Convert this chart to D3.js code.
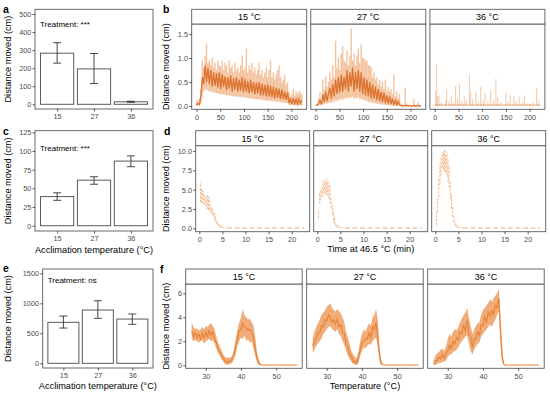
<!DOCTYPE html>
<html><head><meta charset="utf-8">
<script src="https://cdn.jsdelivr.net/npm/d3@7"></script>
<style>body{margin:0;background:#fff}svg{display:block}</style>
</head><body><svg id="c" width="550" height="394"></svg>
<script>
// ---------------- DATA ----------------
const accCats = ["15", "27", "36"];
// panel a
const aMean = [283, 196, 14];
const aLo = [228, 115, 11];
const aHi = [341, 281, 17];
const aTicks = [0, 100, 200, 300, 400, 500];
// panel c
const cMean = [39, 61, 86.5];
const cLo = [34, 55.5, 79];
const cHi = [44, 65.5, 93.5];
const cTicks = [0, 25, 50, 75, 100, 125];
// panel e
const eMean = [683, 888, 738];
const eLo = [588, 750, 650];
const eHi = [788, 1043, 822];
const eTicks = [0, 500, 1000, 1500];

const facetLabels = ["15 °C", "27 °C", "36 °C"];

// panel b (time, min)
const bTime = [0,3,6,9,12,15,18,21,24,27,30,33,36,39,42,45,48,51,54,57,60,63,66,69,72,75,78,81,84,87,90,93,96,99,102,105,108,111,114,117,120,123,126,129,132,135,138,141,144,147,150,153,156,159,162,165,168,171,174,177,180,183,186,189,192,195,198,201,204,207,210,213,216,219,222];
const b15Hi = [0.12,0.1,0.15,0.35,0.95,0.8,1.05,1.3,0.9,0.95, 0.85,1.0,0.8,0.9,0.75,0.95,0.85,0.8,0.95,0.75, 0.9,0.85,0.7,0.95,0.8,0.85,0.7,0.9,0.75,0.8, 0.7,0.85,1.05,0.75,0.8,1.2,0.7,0.85,0.75,0.9, 0.7,0.8,0.65,0.75,0.9,0.65,0.75,0.6,0.7,0.8, 0.6,0.75,0.95,0.6,0.7,0.55,0.65,0.75,0.85,0.6, 0.5,0.55,0.65,0.45,0.5,0.3,0.2,0.25,0.35,0.22, 0.3,0.25,0.32,0.28,0.25];
const b15Lo = [0,0.01,0.02,0.05,0.2,0.3,0.35,0.35,0.32,0.3, 0.3,0.3,0.28,0.28,0.26,0.27,0.25,0.25,0.24,0.24, 0.24,0.22,0.23,0.22,0.22,0.2,0.21,0.2,0.2,0.19, 0.2,0.18,0.19,0.18,0.18,0.17,0.17,0.16,0.16,0.15, 0.15,0.15,0.14,0.14,0.14,0.13,0.13,0.12,0.12,0.12, 0.11,0.11,0.11,0.1,0.1,0.1,0.09,0.09,0.09,0.08, 0.08,0.08,0.07,0.07,0.06,0.02,0.01,0.02,0.01,0.02, 0.01,0.02,0.01,0.02,0.01];
const b15Core = [0.02,0.05,0.03,0.2,0.6,0.45,0.85,0.5,0.8,0.45, 0.75,0.4,0.7,0.42,0.68,0.38,0.7,0.35,0.66,0.4, 0.62,0.33,0.6,0.36,0.64,0.3,0.58,0.34,0.6,0.3, 0.55,0.32,0.6,0.28,0.56,0.3,0.52,0.26,0.55,0.28, 0.5,0.24,0.48,0.26,0.5,0.22,0.46,0.22,0.44,0.2, 0.45,0.2,0.42,0.18,0.4,0.16,0.38,0.17,0.36,0.14, 0.34,0.14,0.3,0.12,0.28,0.06,0.15,0.04,0.16,0.05, 0.14,0.04,0.15,0.05,0.12];
const b27Hi = [0.02,0.05,0.15,0.3,0.1,0.55,0.35,0.62,0.4,0.5, 0.72,0.55,0.85,0.6,1.36,0.8,1.0,0.75,1.1,1.25, 0.95,0.9,1.15,0.85,1.05,1.62,0.95,1.1,0.85,1.05, 1.2,0.9,1.28,1.0,1.0,0.95,0.95,0.85,0.85,0.8, 0.6,0.7,0.55,0.6,0.45,0.55,0.4,0.5,0.35,0.55, 0.3,0.4,0.3,0.35,0.25,0.65,0.2,0.3,0.15,0.25, 0.05,0.03,0.02,0.38,0.05,0.02,0.01,0.02,0.01,0.14, 0.02,0.01,0.08,0.02,0.01];
const b27Lo = [0,0,0.01,0.02,0.01,0.04,0.03,0.06,0.04,0.06, 0.08,0.06,0.1,0.08,0.12,0.1,0.14,0.12,0.15,0.13, 0.16,0.15,0.18,0.15,0.18,0.17,0.2,0.15,0.18,0.15, 0.18,0.14,0.16,0.12,0.14,0.1,0.12,0.08,0.1,0.06, 0.08,0.05,0.06,0.04,0.05,0.03,0.04,0.02,0.03,0.02, 0.02,0.01,0.02,0.01,0.01,0.01,0.01,0,0.01,0, 0,0,0,0,0,0,0,0,0,0, 0,0,0,0,0];
const b27Core = [0.01,0.02,0.05,0.12,0.03,0.25,0.08,0.3,0.1,0.25, 0.38,0.15,0.45,0.2,0.55,0.25,0.6,0.28,0.65,0.3, 0.6,0.35,0.75,0.3,0.7,0.4,0.8,0.3,0.7,0.35, 0.75,0.3,0.7,0.25,0.6,0.22,0.55,0.2,0.5,0.15, 0.45,0.15,0.4,0.12,0.35,0.1,0.3,0.08,0.28,0.06, 0.22,0.05,0.2,0.04,0.15,0.03,0.12,0.02,0.1,0.02, 0.01,0,0.01,0,0.01,0,0.01,0,0,0.01, 0,0,0.01,0,0];
const b36SpikeT = [2,4,6,9,14,22,25,30,35,40, 44,48,52,57,62,66,73,76,80,87, 92,97,102,106,112,118,124,129,133,140, 150,155,159,167,172,178,184,189,195,200, 207,215,219];
const b36SpikeV = [0.32,0.87,0.2,0.22,0.08,0.12,0.33,0.1,0.22,0.08, 0.42,0.15,0.47,0.1,0.2,0.12,0.67,0.3,0.15,0.3, 0.1,0.4,0.12,0.26,0.1,0.33,0.12,0.57,0.18,0.08, 0.28,0.1,0.22,0.2,0.1,0.2,0.08,0.22,0.06,0.05, 0.08,0.38,0.1];
const b36BaseT = [0, 60, 120, 180, 222];
const b36BaseV = [0.02, 0.02, 0.02, 0.02, 0.02];

// panel d (time at 46.5 °C, min)
const dTime = [0.25,0.5,0.75,1,1.25,1.5,1.75,2,2.25,2.5,2.75,3,3.25,3.5,3.75,4,4.25,4.5,4.75,5,5.25,5.5,5.75,6];
const d15Hi = [6.0,5.2,4.9,4.6,4.2,4.0,4.3,4.1,3.9,3.0,2.7,2.5,2.0,1.6,1.2,0.9,0.6,0.4,0.3,0.2,0.12,0.1,0.08,0.06];
const d15Lo = [3.4,3.3,3.2,3.1,3.0,2.8,2.5,2.4,2.3,2.0,1.8,1.6,1.2,0.9,0.6,0.4,0.25,0.15,0.1,0.05,0.03,0.02,0.02,0.02];
const d27Hi = [2.4,4.7,5.0,5.5,6.2,6.0,6.4,6.1,6.3,5.9,5.6,4.0,3.0,2.2,1.5,0.9,0.5,0.3,0.2,0.12,0.1,0.08,0.06,0.05];
const d27Lo = [1.3,3.2,3.6,4.0,4.4,4.6,4.3,4.5,4.2,3.8,3.2,2.6,1.8,1.0,0.6,0.3,0.15,0.1,0.05,0.03,0.02,0.02,0.02,0.02];
const d36Hi = [2.1,4.1,6.5,8.5,9.1,9.9,10.0,10.2,9.6,10.0,9.1,8.0,6.0,4.5,2.8,1.6,1.0,0.5,0.3,0.2,0.15,0.1,0.08,0.06];
const d36Lo = [0.4,2.1,4.0,5.6,6.8,7.8,7.6,7.4,7.2,6.8,6.0,5.2,3.8,2.5,1.5,0.8,0.4,0.2,0.1,0.05,0.03,0.02,0.02,0.02];
const dTailT = [6, 10, 14, 18, 22.7];
const dTailV = [0.03, 0.03, 0.03, 0.03, 0.03];

// panel f (temperature, °C)
const fTemp = [26,26.5,27,27.5,28,28.5,29,29.5,30,30.5,31,31.5,32,32.5,33,33.5,34,34.5,35,35.5,36,36.5,37,37.5,38,38.5,39,39.5,40,40.5,41,41.5,42,42.5,43,43.5,44,44.5,45,45.5,46];
const f15Hi = [3.6,3.2,3.0,3.1,2.9,3.0,3.2,3.0,3.3,3.2, 3.4,3.5,3.3,3.0,2.4,1.9,1.6,1.2,0.9,0.7, 0.6,0.7,0.6,0.8,1.3,2.2,3.0,3.6,4.0,4.7, 4.2,4.0,3.8,3.9,3.6,3.4,2.5,1.2,0.5,0.15, 0.05];
const f15Lo = [2.2,2.0,2.1,2.0,1.9,2.0,2.1,1.8,2.0,2.1, 2.2,2.0,2.1,1.8,1.4,1.0,0.8,0.5,0.3,0.1, 0.05,0.05,0.1,0.2,0.5,0.9,1.6,2.0,2.3,2.2, 2.5,2.0,2.2,1.9,2.0,1.5,0.8,0.3,0.05,0.02, 0.0];
const f15Core = [2.9,2.4,2.7,2.3,2.6,2.2,2.7,2.3,2.8,2.4, 2.9,2.5,2.8,2.2,1.9,1.3,1.2,0.7,0.6,0.3, 0.25,0.35,0.3,0.55,0.85,1.6,2.2,2.9,3.0,3.5, 3.2,3.1,2.9,3.0,2.8,2.5,1.5,0.7,0.2,0.05, 0.02];
const f27Hi = [2.3,2.8,3.2,3.5,3.8,4.2,4.4,4.6,4.9,5.0, 5.2,4.8,4.6,4.5,4.7,4.5,4.3,4.0,3.6,2.8, 2.3,1.8,1.2,0.9,0.7,0.6,1.2,2.0,2.6,3.0, 2.8,3.2,3.5,3.3,4.0,4.2,4.7,3.8,1.5,0.4, 0.08];
const f27Lo = [1.0,1.3,1.6,1.8,2.0,2.2,2.6,2.8,3.0,3.2, 3.3,3.0,2.9,2.8,3.0,2.6,2.4,2.0,1.7,1.2, 0.8,0.5,0.3,0.15,0.05,0.02,0.2,0.8,1.2,1.5, 1.4,1.6,1.8,1.7,2.0,2.2,2.3,1.5,0.3,0.05, 0.0];
const f27Core = [1.6,2.0,2.2,2.7,2.7,3.3,3.2,3.8,3.7,4.2, 4.0,3.6,3.8,3.4,3.9,3.2,3.4,2.7,2.7,1.7, 1.6,0.9,0.8,0.3,0.35,0.15,0.7,1.2,1.9,2.0, 2.2,2.2,2.7,2.3,3.2,3.0,3.6,2.3,0.8,0.15, 0.03];
const f36Hi = [0.4,0.8,1.0,1.1,1.3,1.4,1.2,1.6,2.2,2.6, 2.4,2.8,3.0,2.9,3.2,3.6,3.9,4.2,4.4,4.8, 4.0,3.3,2.6,3.0,3.3,3.5,3.6,4.2,4.6,4.8, 5.0,5.2,5.5,5.3,5.6,5.8,6.0,6.4,4.0,1.2, 0.1];
const f36Lo = [0.0,0.0,0.1,0.2,0.2,0.3,0.3,0.4,0.7,0.9, 0.9,1.1,1.2,1.3,1.5,1.8,2.0,2.2,2.4,2.5, 1.8,1.2,0.9,1.3,1.6,1.8,1.9,2.4,2.6,2.8, 3.0,3.2,3.4,3.2,3.5,3.8,4.2,4.5,1.5,0.2, 0.0];
const f36Core = [0.15,0.4,0.4,0.7,0.55,0.9,0.6,1.0,1.2,1.7, 1.4,2.0,1.8,2.3,2.1,2.8,2.6,3.3,2.9,3.8, 2.6,2.4,1.5,2.2,2.2,2.8,2.5,3.4,3.3,4.0, 3.6,4.4,4.1,4.6,4.2,5.0,4.8,5.6,2.8,0.6, 0.05];
const fTailT = [46, 51, 56];
const fTailV = [0.02, 0.02, 0.02];

// ---------------- DRAWING ----------------
const FONT = '"Liberation Sans", Arial, Helvetica, sans-serif';
const svg = d3.select("#c");
const FRAME = "#5a5a5a";

function styleAxis(g) {
  g.select("path.domain").remove();
  g.selectAll("line").attr("stroke", "#333").attr("stroke-width", 0.8);
  g.selectAll("text").attr("fill", "#4d4d4d").style("font-size", "7.3px").style("font-family", FONT);
}
function txt(x, y, s, opt = {}) {
  const t = svg.append("text").attr("x", x).attr("y", y).text(s)
    .style("font-family", FONT).style("font-size", (opt.size || 9.2) + "px")
    .style("font-weight", opt.bold ? "bold" : "normal")
    .attr("fill", opt.fill || "#000").attr("text-anchor", opt.anchor || "start");
  if (opt.rotate) t.attr("transform", `rotate(-90,${x},${y})`);
  return t;
}

function barPanel(o) {
  const g = svg.append("g");
  const x = d3.scalePoint().domain(accCats).range([o.x0, o.x1]).padding(0.6);
  const y = d3.scaleLinear().domain(o.yDomain).range([o.y1, o.y0]);
  const bw = x.step() * 0.9;
  g.selectAll("rect.bar").data(o.means).join("rect").attr("class", "bar")
    .attr("x", (d, i) => x(accCats[i]) - bw / 2).attr("y", d => y(d))
    .attr("width", bw).attr("height", d => y(0) - y(d))
    .attr("fill", "#fff").attr("stroke", "#5a5a5a").attr("stroke-width", 1);
  o.means.forEach((m, i) => {
    const cx = x(accCats[i]);
    const w = 4;
    g.append("line").attr("x1", cx).attr("x2", cx).attr("y1", y(o.los[i])).attr("y2", y(o.his[i])).attr("stroke", "#333").attr("stroke-width", 0.9);
    g.append("line").attr("x1", cx - w).attr("x2", cx + w).attr("y1", y(o.los[i])).attr("y2", y(o.los[i])).attr("stroke", "#333").attr("stroke-width", 0.9);
    g.append("line").attr("x1", cx - w).attr("x2", cx + w).attr("y1", y(o.his[i])).attr("y2", y(o.his[i])).attr("stroke", "#333").attr("stroke-width", 0.9);
  });
  g.append("rect").attr("x", o.x0).attr("y", o.y0).attr("width", o.x1 - o.x0).attr("height", o.y1 - o.y0)
    .attr("fill", "none").attr("stroke", FRAME).attr("stroke-width", 0.9);
  styleAxis(g.append("g").attr("transform", `translate(${o.x0},0)`)
    .call(d3.axisLeft(y).tickValues(o.yTicks).tickFormat(d3.format("d")).tickSize(2.5).tickPadding(1.2)));
  styleAxis(g.append("g").attr("transform", `translate(0,${o.y1})`)
    .call(d3.axisBottom(x).tickSize(2.5).tickPadding(2.8)));
  txt(o.x0 + 5, o.treatY, o.treat, { size: 8 });
  txt(11, (o.y0 + o.y1) / 2, "Distance moved (cm)", { anchor: "middle", rotate: true });
  if (o.xTitle) txt((o.x0 + o.x1) / 2, o.xTitleY, o.xTitle, { anchor: "middle" });
}

function facetRow(o) {
  for (let i = 0; i < 3; i++) {
    const px0 = o.left + i * (o.width + o.gap);
    const x = d3.scaleLinear().domain(o.xDomain).range([px0, px0 + o.width]);
    const y = d3.scaleLinear().domain(o.yDomain).range([o.bottom, o.top + o.stripH]);
    const g = svg.append("g");
    const clipId = "clip" + o.id + i;
    g.append("clipPath").attr("id", clipId).append("rect")
      .attr("x", px0).attr("y", o.top + o.stripH).attr("width", o.width).attr("height", o.bottom - o.top - o.stripH);
    const pg = g.append("g").attr("clip-path", `url(#${clipId})`);
    o.draw(pg, i, x, y);
    g.append("rect").attr("x", px0).attr("y", o.top + o.stripH).attr("width", o.width).attr("height", o.bottom - o.top - o.stripH)
      .attr("fill", "none").attr("stroke", FRAME).attr("stroke-width", 0.9);
    g.append("rect").attr("x", px0).attr("y", o.top).attr("width", o.width).attr("height", o.stripH)
      .attr("fill", "#fff").attr("stroke", FRAME).attr("stroke-width", 0.9);
    txt(px0 + o.width / 2, o.top + o.stripH / 2 + 3.3, facetLabels[i], { anchor: "middle", size: 9 });
    styleAxis(g.append("g").attr("transform", `translate(0,${o.bottom})`)
      .call(d3.axisBottom(x).tickValues(o.xTicks).tickSize(2.5).tickPadding(2.8)));
    if (i === 0) {
      styleAxis(g.append("g").attr("transform", `translate(${px0},0)`)
        .call(d3.axisLeft(y).tickValues(o.yTicks).tickFormat(o.yFmt).tickSize(2.5).tickPadding(1.2)));
    }
  }
  txt(169, (o.top + o.stripH + o.bottom) / 2, "Distance moved (cm)", { anchor: "middle", rotate: true });
  if (o.xTitle) {
    const mid = o.left + 1.5 * o.width + o.gap;
    txt(mid, o.xTitleY, o.xTitle, { anchor: "middle" });
  }
}

// ---- bar panels
barPanel({ x0: 35, x1: 153, y0: 9.3, y1: 109, yDomain: [-26, 526], yTicks: aTicks,
  means: aMean, los: aLo, his: aHi, treat: "Treatment: ***", treatY: 27 });
barPanel({ x0: 35, x1: 153, y0: 130.7, y1: 231, yDomain: [-7.1, 127.2], yTicks: cTicks,
  means: cMean, los: cLo, his: cHi, treat: "Treatment: ***", treatY: 151,
  xTitle: "Acclimation temperature (°C)", xTitleY: 252.5 });
barPanel({ x0: 42.7, x1: 153, y0: 269, y1: 368, yDomain: [-78, 1572], yTicks: eTicks,
  means: eMean, los: eLo, his: eHi, treat: "Treatment: ns", treatY: 283,
  xTitle: "Acclimation temperature (°C)", xTitleY: 389 });

// ---- panel b
const bHi = [b15Hi, b27Hi], bLo = [b15Lo, b27Lo], bCore = [b15Core, b27Core];
facetRow({ id: "b", top: 9.3, stripH: 14.7, bottom: 109.3, left: 191.7, width: 115, gap: 4.1,
  xDomain: [-10.3, 232.3], yDomain: [-0.069, 1.708], xTicks: [0, 50, 100, 150, 200],
  yTicks: [0, 0.5, 1, 1.5], yFmt: d3.format(".1f"),
  draw: (g, i, x, y) => {
    if (i < 2) {
      g.selectAll("line.sp").data(bTime).join("line")
        .attr("x1", d => x(d)).attr("x2", d => x(d))
        .attr("y1", (d, j) => y(bLo[i][j])).attr("y2", (d, j) => y(bHi[i][j]))
        .attr("stroke", "#EA8A42").attr("stroke-opacity", 0.5).attr("stroke-width", 1.4);
      g.append("path").datum(bTime).attr("fill", "none").attr("stroke", "#DA6A22")
        .attr("stroke-width", 1.3).attr("stroke-opacity", 0.9)
        .attr("d", d3.line().x(d => x(d)).y((d, j) => y(bCore[i][j])));
    } else {
      g.selectAll("line.sp").data(b36SpikeT).join("line")
        .attr("x1", d => x(d)).attr("x2", d => x(d))
        .attr("y1", y(0)).attr("y2", (d, j) => y(b36SpikeV[j]))
        .attr("stroke", "#EC9450").attr("stroke-opacity", 0.5).attr("stroke-width", 1);
      g.append("path").datum(b36BaseT).attr("fill", "none").attr("stroke", "#E07A30")
        .attr("stroke-width", 0.9).attr("stroke-opacity", 0.7)
        .attr("d", d3.line().x(d => x(d)).y((d, j) => y(b36BaseV[j])));
    }
  } });
txt(163, 13, "b", { bold: true, size: 10.5 });
txt(3, 13, "a", { bold: true, size: 10.5 });

// ---- panel d
const dHi = [d15Hi, d27Hi, d36Hi], dLo = [d15Lo, d27Lo, d36Lo];
facetRow({ id: "d", top: 130.7, stripH: 15, bottom: 231.7, left: 195.7, width: 114, gap: 4,
  xDomain: [-0.78, 23.9], yDomain: [-0.44, 10.69], xTicks: [0, 5, 10, 15, 20],
  yTicks: [0, 2.5, 5, 7.5, 10], yFmt: d3.format(".1f"),
  xTitle: "Time at 46.5 °C (min)", xTitleY: 251.5,
  draw: (g, i, x, y) => {
    g.selectAll("line.sp").data(dTime).join("line")
      .attr("x1", d => x(d)).attr("x2", d => x(d))
      .attr("y1", (d, j) => y(dLo[i][j])).attr("y2", (d, j) => y(dHi[i][j]))
      .attr("stroke", "#F2AC74").attr("stroke-opacity", 0.85).attr("stroke-width", 1)
      .attr("stroke-dasharray", "2.5,1.3");
    g.append("path").datum(dTailT).attr("fill", "none").attr("stroke", "#F2AC74")
      .attr("stroke-width", 1.1).attr("stroke-dasharray", "5,2.5")
      .attr("d", d3.line().x(d => x(d)).y((d, j) => y(dTailV[j])));
  } });
txt(164, 135, "d", { bold: true, size: 10.5 });
txt(3, 135, "c", { bold: true, size: 10.5 });

// ---- panel f
const fHi = [f15Hi, f27Hi, f36Hi], fLo = [f15Lo, f27Lo, f36Lo], fCore = [f15Core, f27Core, f36Core];
facetRow({ id: "f", top: 269, stripH: 15, bottom: 368.3, left: 185.7, width: 116.5, gap: 4.5,
  xDomain: [24.3, 57.4], yDomain: [-0.25, 6.78], xTicks: [30, 40, 50],
  yTicks: [0, 2, 4, 6], yFmt: d3.format("d"),
  xTitle: "Temperature (°C)", xTitleY: 389,
  draw: (g, i, x, y) => {
    g.append("path").datum(fTemp).attr("fill", "#EC8E45").attr("fill-opacity", 0.72)
      .attr("d", d3.area().x(d => x(d)).y0((d, j) => y(fLo[i][j])).y1((d, j) => y(fHi[i][j])));
    g.append("path").datum(fTemp).attr("fill", "none").attr("stroke", "#E5802F")
      .attr("stroke-width", 1.1).attr("stroke-opacity", 0.95)
      .attr("d", d3.line().x(d => x(d)).y((d, j) => y(fCore[i][j])));
    g.append("path").datum(fTailT).attr("fill", "none").attr("stroke", "#E5802F")
      .attr("stroke-width", 1)
      .attr("d", d3.line().x(d => x(d)).y((d, j) => y(fTailV[j])));
  } });
txt(160, 273, "f", { bold: true, size: 10.5 });
txt(3, 272, "e", { bold: true, size: 10.5 });
</script></body></html>
